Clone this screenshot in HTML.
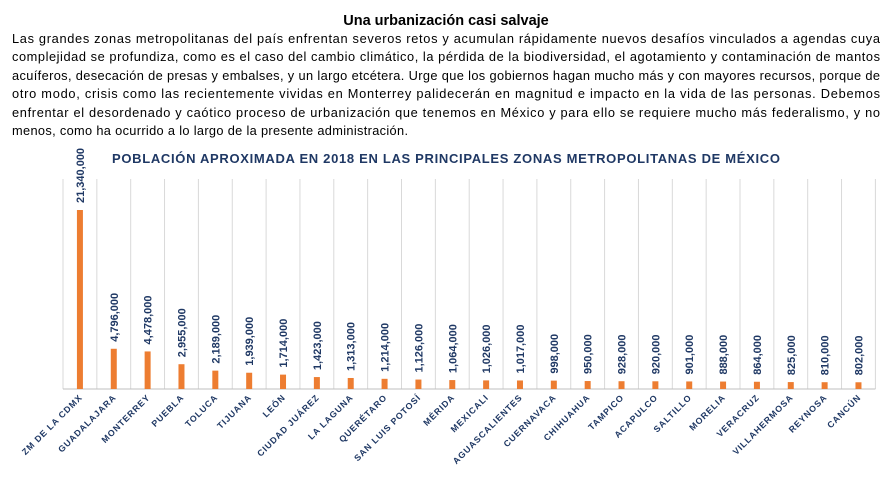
<!DOCTYPE html>
<html><head><meta charset="utf-8"><style>
html,body{margin:0;padding:0;background:#fff;width:892px;height:482px;overflow:hidden}
svg{display:block}
.p{font-family:"Liberation Sans",sans-serif;font-size:12.8px;fill:#000}
</style></head><body>
<svg id="s" width="892" height="482" xmlns="http://www.w3.org/2000/svg">
<text x="446" y="25" text-anchor="middle" font-family="Liberation Sans,sans-serif" font-weight="bold" font-size="14.5">Una urbanización casi salvaje</text>
<text class="p" x="12" y="43" textLength="868" lengthAdjust="spacing">Las grandes zonas metropolitanas del país enfrentan severos retos y acumulan rápidamente nuevos desafíos vinculados a agendas cuya</text>
<text class="p" x="12" y="61" textLength="868" lengthAdjust="spacing">complejidad se profundiza, como es el caso del cambio climático, la pérdida de la biodiversidad, el agotamiento y contaminación de mantos</text>
<text class="p" x="12" y="80" textLength="868" lengthAdjust="spacing">acuíferos, desecación de presas y embalses, y un largo etcétera. Urge que los gobiernos hagan mucho más y con mayores recursos, porque de</text>
<text class="p" x="12" y="98" textLength="868" lengthAdjust="spacing">otro modo, crisis como las recientemente vividas en Monterrey palidecerán en magnitud e impacto en la vida de las personas. Debemos</text>
<text class="p" x="12" y="117" textLength="868" lengthAdjust="spacing">enfrentar el desordenado y caótico proceso de urbanización que tenemos en México y para ello se requiere mucho más federalismo, y no</text>
<text class="p" x="12" y="135" textLength="396" lengthAdjust="spacing">menos, como ha ocurrido a lo largo de la presente administración.</text>
<text x="446" y="163" text-anchor="middle" font-family="Liberation Sans,sans-serif" font-weight="bold" font-size="13" fill="#1F3864" textLength="668" lengthAdjust="spacing">POBLACIÓN APROXIMADA EN 2018 EN LAS PRINCIPALES ZONAS METROPOLITANAS DE MÉXICO</text>
<g id="g"></g>
</svg>
<script>
var d=[["ZM DE LA CDMX",21340000],["GUADALAJARA",4796000],["MONTERREY",4478000],["PUEBLA",2955000],["TOLUCA",2189000],["TIJUANA",1939000],["LEÓN",1714000],["CIUDAD JUÁREZ",1423000],["LA LAGUNA",1313000],["QUERÉTARO",1214000],["SAN LUIS POTOSÍ",1126000],["MÉRIDA",1064000],["MEXICALI",1026000],["AGUASCALIENTES",1017000],["CUERNAVACA",998000],["CHIHUAHUA",950000],["TAMPICO",928000],["ACAPULCO",920000],["SALTILLO",901000],["MORELIA",888000],["VERACRUZ",864000],["VILLAHERMOSA",825000],["REYNOSA",810000],["CANCÚN",802000]];
var x0=63,w=33.85,base=389,sc=179/21340000,h='';
for(var i=0;i<=24;i++){var x=x0+i*w;h+='<line x1="'+x+'" y1="179" x2="'+x+'" y2="'+base+'" stroke="#d9d9d9" stroke-width="1"/>';}
h+='<line x1="'+x0+'" y1="'+base+'" x2="'+(x0+24*w)+'" y2="'+base+'" stroke="#bfbfbf" stroke-width="1"/>';
d.forEach(function(e,i){var c=x0+i*w+w/2,bh=e[1]*sc,t=base-bh;
h+='<rect x="'+(c-3)+'" y="'+t+'" width="6" height="'+bh+'" fill="#ED7D31"/>';
var lab=e[1].toLocaleString('en-US');
h+='<text transform="translate('+(c+4)+','+(t-7)+') rotate(-90)" font-family="Liberation Sans,sans-serif" font-size="11" font-weight="bold" fill="#1F3864">'+lab+'</text>';
h+='<text transform="translate('+(c+3)+',398) rotate(-45)" text-anchor="end" font-family="Liberation Sans,sans-serif" font-size="8.8" font-weight="bold" letter-spacing="0.9" fill="#1F3864">'+e[0]+'</text>';
});
document.getElementById('g').innerHTML=h;
</script>
</body></html>
